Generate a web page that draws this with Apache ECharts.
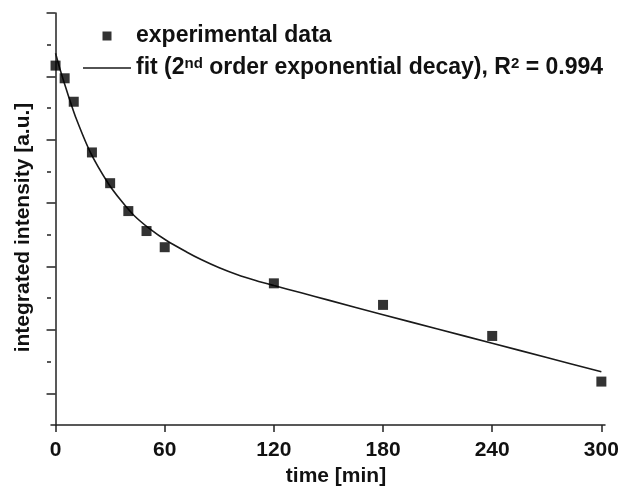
<!DOCTYPE html>
<html>
<head>
<meta charset="utf-8">
<script src="https://cdn.jsdelivr.net/npm/echarts@6/dist/echarts.min.js"></script>
<style>
  html, body { margin: 0; padding: 0; background: #fff; }
  #chart-container { width: 623px; height: 487px; }
</style>
</head>
<body>
<div id="chart-container"></div>
<script>
// measured points
const timeMin = [0, 5, 10, 20, 30, 40, 50, 60, 120, 180, 240, 300];
const intensity = [11.34, 10.94, 10.2, 8.6, 7.63, 6.75, 6.12, 5.61, 4.47, 3.79, 2.81, 1.37];
// fit curve
const fitTime = [0, 3, 7, 11, 19, 29, 36, 43, 52, 61, 72, 80, 90, 100, 110, 120, 135, 150, 180, 210, 240, 270, 300];
const fitIntensity = [11.73, 11.12, 10.4, 9.72, 8.62, 7.62, 7.08, 6.62, 6.18, 5.82, 5.46, 5.22, 4.96, 4.74, 4.56, 4.4, 4.17, 3.94, 3.48, 3.03, 2.58, 2.13, 1.68];
const xTicks = [0, 60, 120, 180, 240, 300];
const yMajorTicks = [1, 3, 5, 7, 9, 11, 13];
const yMinorTicks = [2, 4, 6, 8, 10, 12];

const font = "Liberation Sans";
const axisColor = "#222";

const chart = echarts.init(document.getElementById("chart-container"));

const options = {
    animation: false,
    backgroundColor: "#fff",
    textStyle: { fontFamily: font },
    grid: { left: 51, right: 18, top: 13, bottom: 62, outerBoundsMode: "none" },
    legend: {
        orient: "vertical",
        left: 78,
        top: 19,
        itemWidth: 48,
        itemHeight: 9,
        itemGap: 8,
        textStyle: {
            fontFamily: font,
            fontWeight: "bold",
            fontSize: 23,
            lineHeight: 24,
            color: "#111",
            rich: {
                sup: { fontFamily: font, fontWeight: "bold", fontSize: 15, lineHeight: 14, verticalAlign: "top", color: "#111" }
            }
        },
        formatter: function (name) {
            if (name === "fit") {
                return "fit (2{sup|nd} order exponential decay), R{sup|2} = 0.994";
            }
            return name;
        },
        data: [
            { name: "experimental data", icon: "path://M0,0L10,0L10,10L0,10Z" },
            { name: "fit", icon: "path://M0,0L48,0L48,1.6L0,1.6Z", itemStyle: { borderWidth: 0 } }
        ]
    },
    xAxis: {
        type: "value",
        min: -2.5,
        max: 302,
        name: "time [min]",
        nameLocation: "middle",
        nameGap: 41,
        nameTextStyle: { fontFamily: font, fontWeight: "bold", fontSize: 21, color: "#111", padding: [0, 0, 0, 16] },
        axisLine: { show: true, lineStyle: { color: axisColor, width: 1.5 } },
        axisTick: { show: true, inside: false, length: 7, customValues: xTicks, lineStyle: { color: axisColor, width: 1.5 } },
        axisLabel: { customValues: xTicks, margin: 15, fontFamily: font, fontWeight: "bold", fontSize: 21, color: "#111" },
        splitLine: { show: false }
    },
    yAxis: [
        {
            type: "value",
            min: 0,
            max: 13,
            name: "integrated intensity [a.u.]",
            nameLocation: "middle",
            nameGap: 17,
            nameTextStyle: { fontFamily: font, fontWeight: "bold", fontSize: 21, color: "#111", padding: [0, 17, 0, 0] },
            axisLine: { show: true, lineStyle: { color: axisColor, width: 1.5 } },
            axisTick: { show: true, inside: false, length: 9, customValues: yMajorTicks, lineStyle: { color: axisColor, width: 1.5 } },
            axisLabel: { show: false },
            splitLine: { show: false }
        },
        {
            type: "value",
            position: "left",
            min: 0,
            max: 13,
            axisLine: { show: false },
            axisTick: { show: true, inside: false, length: 4, customValues: yMinorTicks, lineStyle: { color: axisColor, width: 1.5 } },
            axisLabel: { show: false },
            splitLine: { show: false }
        }
    ],
    series: [
        {
            name: "experimental data",
            type: "scatter",
            symbol: "rect",
            symbolSize: 10,
            itemStyle: { color: "#000" },
            data: timeMin.map((t, i) => [t, intensity[i]]),
            z: 3
        },
        {
            name: "fit",
            type: "line",
            symbol: "none",
            smooth: 0.3,
            lineStyle: { color: "#1a1a1a", width: 1.6 },
            itemStyle: { color: "#1a1a1a" },
            data: fitTime.map((t, i) => [t, fitIntensity[i]]),
            z: 2
        }
    ]
};

chart.setOption(options);
</script>
</body>
</html>
